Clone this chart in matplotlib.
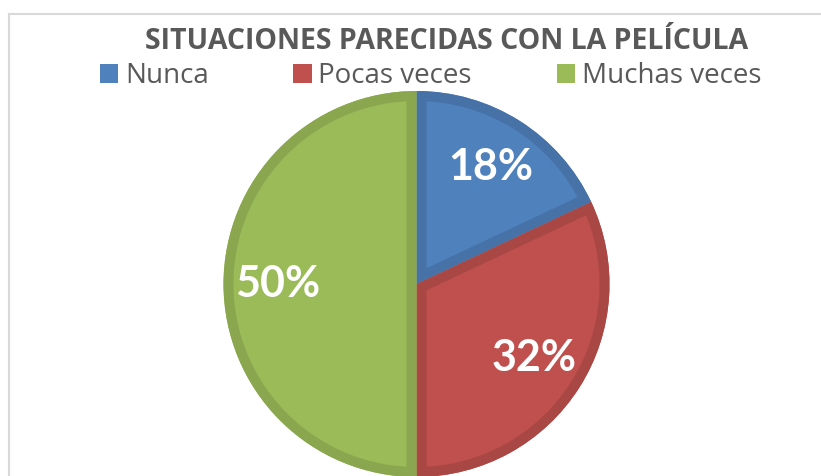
import matplotlib
matplotlib.use("Agg")
import matplotlib.pyplot as plt
from matplotlib.patches import Patch, Wedge
from matplotlib.lines import Line2D

# Datos del gráfico
categorias = ["Nunca", "Pocas veces", "Muchas veces"]
valores = [18, 32, 50]
titulo = "SITUACIONES PARECIDAS CON LA PELÍCULA"

# Colores (relleno y borde interior más oscuro)
relleno = ["#4F81BD", "#C0504D", "#9BBB59"]
borde = ["#4672A8", "#A94744", "#8AA74F"]

plt.rcParams['font.family'] = ['Open Sans', 'DejaVu Sans']

W, H = 821, 476
fig = plt.figure(figsize=(W / 100, H / 100), dpi=100)

# Ejes colocados para que el pastel quede centrado en (416.5, 284) px con radio 193 px
cx, cy, R = 416.5, 284, 193
pad = 1.03
lado = 2 * R * pad
ax = fig.add_axes([(cx - lado / 2) / W, (H - cy - lado / 2) / H, lado / W, lado / H])

wedges, texts, autotexts = ax.pie(
    valores, colors=relleno, startangle=90, counterclock=False,
    autopct='%1.0f%%', pctdistance=0.72, radius=1,
    textprops=dict(color='white', fontsize=31, fontweight='bold', family='Lato'))

# Borde interior oscuro: cuña sin relleno con línea ancha, recortada a la cuña original
for w, c in zip(wedges, borde):
    w.set_linewidth(0)
    b = Wedge(w.center, w.r, w.theta1, w.theta2, facecolor='none',
              edgecolor=c, linewidth=14.4, zorder=w.get_zorder() + 0.1)
    ax.add_patch(b)
    b.set_clip_path(w)

for t in autotexts:
    t.set_zorder(5)

ax.set_xlim(-pad, pad)
ax.set_ylim(-pad, pad)
ax.set_aspect('equal')
ax.axis('off')

# Marco del área del gráfico
fig.add_artist(Line2D([8.5 / W, 8.5 / W], [0, 1 - 13.5 / H], color='#D9D9D9', lw=1.5))
fig.add_artist(Line2D([8.5 / W, 1], [1 - 13.5 / H, 1 - 13.5 / H], color='#D9D9D9', lw=1.5))

fig.text(446.5 / W, 1 - 49 / H, titulo, ha='center', va='baseline',
         fontsize=20.5, fontweight='bold', color='#595959')

handles = [Patch(facecolor=c, edgecolor='none') for c in relleno]
fig.legend(handles, categorias, ncol=3, loc='center left', frameon=False,
           bbox_to_anchor=(100 / W, 1 - 76 / H), borderpad=0, borderaxespad=0,
           fontsize=20, handlelength=0.65, handleheight=0.65, handletextpad=0.25,
           columnspacing=3.05, labelcolor='#595959')

fig.savefig("out.png", dpi=100)
